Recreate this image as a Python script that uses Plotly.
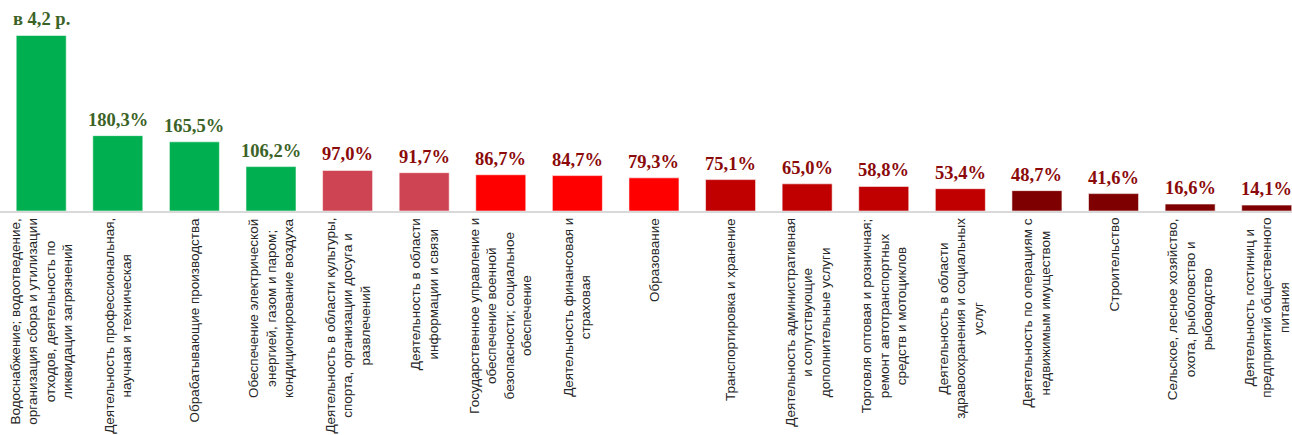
import plotly.graph_objects as go

# ---- data ----
category_lines = [
    ["Водоснабжение; водоотведение,", "организация сбора и утилизации", "отходов, деятельность по", "ликвидации загрязнений"],
    ["Деятельность профессиональная,", "научная и техническая"],
    ["Обрабатывающие производства"],
    ["Обеспечение электрической", "энергией, газом и паром;", "кондиционирование воздуха"],
    ["Деятельность в области культуры,", "спорта, организации досуга и", "развлечений"],
    ["Деятельность в области", "информации и связи"],
    ["Государственное управление и", "обеспечение военной", "безопасности; социальное", "обеспечение"],
    ["Деятельность финансовая и", "страховая"],
    ["Образование"],
    ["Транспортировка и хранение"],
    ["Деятельность административная", "и сопутствующие", "дополнительные услуги"],
    ["Торговля оптовая и розничная;", "ремонт автотранспортных", "средств и мотоциклов"],
    ["Деятельность в области", "здравоохранения и социальных", "услуг"],
    ["Деятельность по операциям с", "недвижимым имуществом"],
    ["Строительство"],
    ["Сельское, лесное хозяйство,", "охота, рыболовство и", "рыбоводство"],
    ["Деятельность гостиниц и", "предприятий общественного", "питания"],
]
values = [420.0, 180.3, 165.5, 106.2, 97.0, 91.7, 86.7, 84.7, 79.3,
          75.1, 65.0, 58.8, 53.4, 48.7, 41.6, 16.6, 14.1]

# ---- styles ----
bar_colors = (["#00B050"] * 4 + ["#CF4452"] * 2 + ["#FF0000"] * 3 +
              ["#C00000"] * 4 + ["#7F0000"] * 4)
GREEN_TXT = "#3C6327"
RED_TXT = "#8B0A0A"

categories = [" ".join(l) for l in category_lines]


def fmt(v):
    if v >= 200:
        return "в " + f"{v / 100:.1f}".replace(".", ",") + " р."
    return f"{v:.1f}".replace(".", ",") + "%"


fig = go.Figure()
fig.add_trace(go.Bar(
    x=categories, y=values,
    marker=dict(color=bar_colors, line=dict(color="rgba(255,255,255,0.55)", width=1)),
    hoverinfo="x+y",
))

annotations = []
for c, v in zip(categories, values):
    annotations.append(dict(
        x=c, y=v, xref="x", yref="y", text="<b>" + fmt(v) + "</b>",
        showarrow=False, yanchor="bottom", xanchor="center", yshift=4,
        font=dict(family="Liberation Serif, Times New Roman, serif", size=18.5,
                  color=GREEN_TXT if v >= 100 else RED_TXT),
    ))
for c, lines in zip(categories, category_lines):
    annotations.append(dict(
        x=c, y=0, xref="x", yref="paper", text="<br>".join(lines),
        showarrow=False, textangle=-90, align="center",
        yanchor="top", xanchor="center", yshift=-5,
        font=dict(family="Liberation Sans, Arial, sans-serif", size=13.5, color="#262626"),
    ))

fig.update_layout(
    width=1292, height=435,
    margin=dict(l=0, r=0, t=0, b=224),
    plot_bgcolor="white", paper_bgcolor="white",
    bargap=0.347,
    showlegend=False,
    annotations=annotations,
    xaxis=dict(type="category", range=[-0.538, 16.33], showticklabels=False,
               showline=True, linecolor="#D9D9D9", linewidth=2, ticks="",
               showgrid=False, zeroline=False, fixedrange=True),
    yaxis=dict(range=[0, 504.8], visible=False, fixedrange=True),
)

fig.write_html("out.html", config={"displayModeBar": False},
               post_script="document.body.style.margin='0';document.body.style.overflow='hidden';")
